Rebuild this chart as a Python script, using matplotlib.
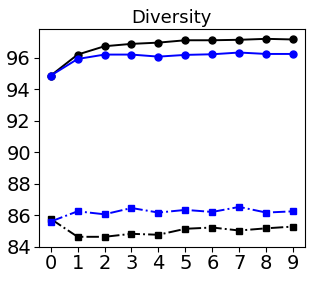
import matplotlib
matplotlib.use("Agg")
import matplotlib.pyplot as plt

steps = list(range(10))

# upper curves (circles, solid)
black_circle = [94.87, 96.21, 96.74, 96.89, 96.97, 97.12, 97.12, 97.15, 97.21, 97.17]
blue_circle = [94.87, 95.93, 96.21, 96.21, 96.08, 96.19, 96.23, 96.34, 96.25, 96.25]

# lower curves (squares, dash-dot)
black_square = [85.77, 84.63, 84.63, 84.82, 84.76, 85.14, 85.22, 85.03, 85.17, 85.28]
blue_square = [85.60, 86.25, 86.06, 86.46, 86.17, 86.34, 86.21, 86.53, 86.17, 86.25]

fig = plt.figure(figsize=(3.16, 2.81), dpi=100)
ax = fig.add_axes([0.122, 0.122, 0.844, 0.775])

ax.plot(steps, black_circle, color="black", marker="o", ls="-", lw=1.4, ms=5)
ax.plot(steps, blue_circle, color="blue", marker="o", ls="-", lw=1.4, ms=5)
ax.plot(steps, black_square, color="black", marker="s", ls="-.", lw=1.4, ms=5)
ax.plot(steps, blue_square, color="blue", marker="s", ls="-.", lw=1.4, ms=5)

ax.set_xticks(steps)
ax.set_yticks([84, 86, 88, 90, 92, 94, 96])
ax.tick_params(labelsize=14, pad=2)
ax.set_title("Diversity", fontsize=13, pad=4)

fig.savefig("out.png", dpi=100)
